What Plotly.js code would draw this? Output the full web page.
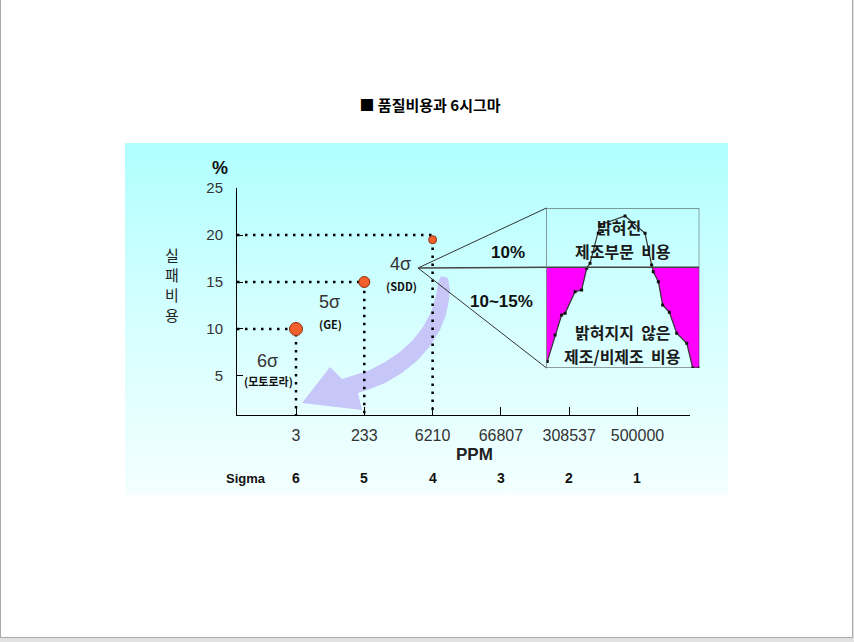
<!DOCTYPE html>
<html>
<head>
<meta charset="utf-8">
<script src="https://cdn.plot.ly/plotly-3.0.1.min.js"></script>
<style>
html,body{margin:0;padding:0;background:#e2e2e2;width:854px;height:642px;overflow:hidden;}
#page{position:absolute;left:0;top:0;width:851px;height:637px;background:#fff;border:1px solid #a9a9a9;border-top:none;}
#panel{position:absolute;left:125px;top:143px;width:603px;height:352px;background:linear-gradient(to bottom,#b0ffff 0%,#d2ffff 45%,#f4ffff 100%);}
#chart{position:absolute;left:0;top:0;width:854px;height:642px;}
</style>
</head>
<body>
<div id="page"></div>
<div id="panel"></div>
<div id="chart"></div>
<script>
// ---------- data ----------
const ppmLabels   = ['3', '233', '6210', '66807', '308537', '500000'];
const sigmaLevels = ['6', '5', '4', '3', '2', '1'];
const pointPPM    = ['3', '233', '6210'];
const failureCost = [10, 15, 19.5];
const guideLevel  = [10, 15, 20];
const sigmaNames  = ['6σ', '5σ', '4σ'];
const companies   = ['(모토로라)', '(GE)', '(SDD)'];
const yTicks      = [5, 10, 15, 20, 25];
const yTitle      = '실패비용';
// inset illustration (0-100 units inside the box)
const insetCurveX = [0.5, 5.6, 9.9, 12.2, 18.7, 23.0, 26.3, 28.5, 33.9, 35.0, 51.4, 64.5, 68.8, 69.9, 73.2, 76.0, 80.4, 85.2, 91.8, 95.7, 100];
const insetCurveY = [4, 20.6, 33.1, 34.2, 47.7, 48.8, 62.3, 65.4, 84.2, 89.4, 95, 84.2, 64.4, 60.2, 53.9, 39.4, 34.8, 21.7, 15.4, 0, 0];
const insetSplit  = 63;
const knownShare  = '10%';
const hiddenShare = '10~15%';

// ---------- layout geometry (pixels) ----------
const L = 237, R = 720, T = 188, B = 415, AXR = 690;
const X0 = 0.136, X1 = 6.769, Y0 = 0.85, Y1 = 25;
const px = x => (x - L) / (R - L);
const py = y => (B - y) / (B - T);

const xPos = c => ppmLabels.indexOf(c) + 1;

// guide dotted lines
const gx = [], gy = [];
pointPPM.forEach((c, i) => {
  gx.push(X0, xPos(c), xPos(c), null);
  gy.push(guideLevel[i], guideLevel[i], Y0, null);
});

// inset fills
function cross(i) {
  const x0 = insetCurveX[i], y0 = insetCurveY[i], x1 = insetCurveX[i+1], y1 = insetCurveY[i+1];
  const t = (insetSplit - y0) / (y1 - y0);
  return [x0 + t * (x1 - x0), insetSplit];
}
let c1 = -1, c2 = -1;
for (let i = 0; i < insetCurveY.length - 1; i++) {
  const a = insetCurveY[i] - insetSplit, b = insetCurveY[i+1] - insetSplit;
  if (a < 0 && b >= 0 && c1 < 0) c1 = i;
  if (a >= 0 && b < 0) c2 = i;
}
const lfx = [0, 0], lfy = [insetSplit, insetCurveY[0]];
for (let i = 0; i <= c1; i++) { lfx.push(insetCurveX[i]); lfy.push(insetCurveY[i]); }
const p1 = cross(c1); lfx.push(p1[0]); lfy.push(p1[1]);
const p2 = cross(c2);
const rfx = [p2[0]], rfy = [p2[1]];
for (let i = c2 + 1; i < insetCurveX.length; i++) { rfx.push(insetCurveX[i]); rfy.push(insetCurveY[i]); }
rfx.push(100); rfy.push(insetSplit);

const traces = [
  {type:'scatter', mode:'lines', x:lfx, y:lfy, xaxis:'x2', yaxis:'y2', fill:'toself', fillcolor:'#ff00ff', line:{width:0}, hoverinfo:'skip', showlegend:false},
  {type:'scatter', mode:'lines', x:rfx, y:rfy, xaxis:'x2', yaxis:'y2', fill:'toself', fillcolor:'#ff00ff', line:{width:0}, hoverinfo:'skip', showlegend:false},
  {type:'scatter', mode:'lines+markers', x:insetCurveX, y:insetCurveY, xaxis:'x2', yaxis:'y2',
   line:{color:'#333', width:1.2}, marker:{symbol:'square', size:3, color:'#111'}, hoverinfo:'skip', showlegend:false},
  {type:'scatter', mode:'lines', x:gx, y:gy, line:{color:'#000', width:2.5, dash:'2.5px,5.5px'}, hoverinfo:'skip', showlegend:false},
  {type:'scatter', mode:'markers', x:pointPPM.map(xPos), y:failureCost,
   marker:{size:[13, 11, 8], opacity:1, color:'#f2602c', line:{color:'#8a3010', width:1}},
   hoverinfo:'skip', showlegend:false}
];

// ---------- annotations ----------
const anns = [];
function A(x, y, text, size, opts) {
  anns.push(Object.assign({xref:'paper', yref:'paper', x:px(x), y:py(y), text:text, showarrow:false, borderpad:0,
    xanchor:'center', yanchor:'middle', font:{family:'Liberation Sans, Arial, sans-serif', size:size, color:'#222'}}, opts || {}));
}
A(220, 168, '<b>%</b>', 18, {font:{family:'Liberation Sans, Arial', size:18, color:'#111'}});
yTitle.split('').forEach((ch, i) => A(172, 254 + i * 20, ch, 15, {font:{family:'Noto Sans CJK KR', size:15, color:'#222'}}));
A(474.5, 454, '<b>PPM</b>', 17, {font:{family:'Liberation Sans, Arial', size:17, color:'#222'}});
A(246, 478, '<b>Sigma</b>', 13, {font:{family:'Liberation Sans, Arial', size:13, color:'#111'}});
sigmaLevels.forEach((s, i) => anns.push({xref:'x', yref:'paper', x:i + 1, y:py(478), text:'<b>' + s + '</b>', showarrow:false,
  xanchor:'center', yanchor:'middle', font:{family:'Liberation Sans, Arial', size:14, color:'#111'}}));

// sigma name (box bottom) / company (box top) share a boundary line
const lblPos = [[267, 372], [329, 313], [400, 275]];
sigmaNames.forEach((s, i) => {
  A(lblPos[i][0], lblPos[i][1], s, 18, {yanchor:'bottom', font:{family:'Liberation Sans, Arial', size:18, color:'#333'}});
  A(lblPos[i][0] + 1, lblPos[i][1] + (i === 0 ? 0 : 2), '<b>' + companies[i] + '</b>', 11, {yanchor:'top', font:{family:'Noto Sans CJK KR, Liberation Sans', size:11, color:'#111'}});
});
A(508, 252, '<b>' + knownShare + '</b>', 17, {font:{family:'Liberation Sans, Arial', size:17, color:'#111'}});
A(501, 301, '<b>' + hiddenShare + '</b>', 17, {font:{family:'Liberation Sans, Arial', size:17, color:'#111'}});
const kf = {family:'Noto Sans CJK KR', size:16, color:'#1a1a1a', weight:700};
A(619, 227, '밝혀진', 16, {font:kf});
A(623, 251, '제조부문&nbsp;&nbsp;비용', 16, {font:kf});
A(623, 332, '밝혀지지&nbsp;&nbsp;않은', 16, {font:kf});
A(622, 356, '제조/비제조&nbsp;&nbsp;비용', 16, {font:kf});

// ---------- shapes ----------
const arrowPts = [[441,276],[448,278],[450,290],[449,300],[446,315],[440,330],[430,346],[418,360],[402,373],[385,383],[370,389],[358,393],[362,410],[302,403],[330,367],[342,379],[355,375],[370,370],[385,362],[400,352],[413,340],[423,327],[431,312],[436,296],[438,283]];
const arrowPath = 'M' + arrowPts.map(p => px(p[0]).toFixed(4) + ',' + py(p[1]).toFixed(4)).join(' L') + ' Z';
const shapes = [
  {type:'path', xref:'paper', yref:'paper', path:arrowPath, fillcolor:'#c6c6f8', line:{width:0}, layer:'below'},
  {type:'rect', xref:'x2', yref:'y2', x0:0, x1:100, y0:0, y1:100, line:{color:'#3a3a3a', width:1}},
  {type:'line', xref:'x2', yref:'y2', x0:0, x1:100, y0:insetSplit, y1:insetSplit, line:{color:'#444', width:1.5}},
];
const vx = 418, vy = 268;
[[546.5, 208], [546.5, 267.3], [546.5, 368]].forEach((p, i) => shapes.push({type:'line', xref:'paper', yref:'paper',
  x0:px(vx), y0:py(vy), x1:px(p[0]), y1:py(p[1]), line:{color: i === 1 ? '#444' : '#333', width: i === 1 ? 1.5 : 1}}));

const layout = {
  width:854, height:642,
  margin:{l:L, r:854 - R, t:T, b:642 - B, pad:0},
  paper_bgcolor:'rgba(0,0,0,0)', plot_bgcolor:'rgba(0,0,0,0)',
  showlegend:false,
  title:{text:'<b>■ 품질비용과 6시그마</b>', font:{family:'Noto Sans CJK KR', size:15, color:'#000'},
    xref:'container', yref:'container', x:430/854, y:1 - 106/642, xanchor:'center', yanchor:'middle'},
  xaxis:{domain:[0, (AXR - L) / (R - L)], range:[X0, X1], tickvals:ppmLabels.map((_, i) => i + 1), ticktext:ppmLabels,
    ticks:'inside', ticklen:8, tickcolor:'#000', showline:true, linecolor:'#000', linewidth:1,
    showgrid:false, zeroline:false, ticklabelstandoff:6,
    tickfont:{family:'Liberation Sans, Arial', size:16, color:'#333'}},
  yaxis:{range:[Y0, Y1], tickvals:yTicks, ticks:'inside', ticklen:6, tickcolor:'#000', showline:true, linecolor:'#000', linewidth:1,
    showgrid:false, zeroline:false, ticklabelstandoff:10,
    tickfont:{family:'Liberation Sans, Arial', size:15, color:'#333'}},
  xaxis2:{domain:[px(546.5), px(699.3)], range:[0, 100], visible:false, anchor:'y2'},
  yaxis2:{domain:[py(368), py(208)], range:[0, 100], visible:false, anchor:'x2'},
  annotations:anns,
  shapes:shapes
};
Plotly.newPlot('chart', traces, layout, {displayModeBar:false, staticPlot:true});
</script>
</body>
</html>
